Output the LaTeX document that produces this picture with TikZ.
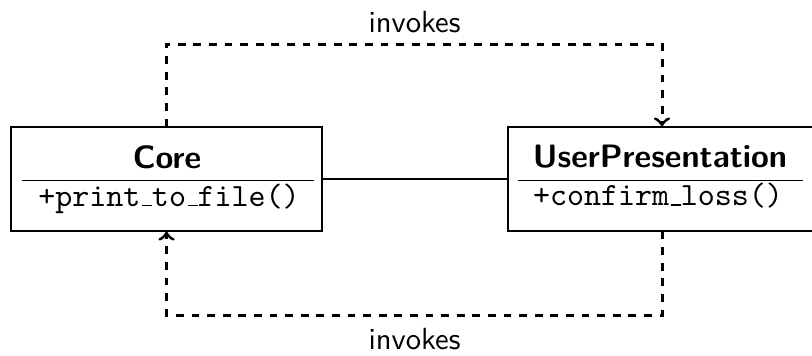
\documentclass[tikz,border=0pt]{standalone}
\usetikzlibrary{calc}
\newcommand{\lowrule}{\leavevmode\kern.06em\vbox{\hrule width .3em}}
\begin{document}
\begin{tikzpicture}[x=0.33333pt,y=-0.33333pt,
  classbox/.style={draw,line width=0.45pt,minimum height=34.667pt,inner sep=0pt},
  title/.style={font=\fontsize{10.8}{13}\selectfont\sffamily\bfseries,anchor=base,inner sep=0pt},
  op/.style={font=\fontsize{10.8}{13}\selectfont\ttfamily,anchor=base,inner sep=0pt},
  lbl/.style={font=\fontsize{10.2}{12}\selectfont\sffamily,anchor=base,inner sep=0pt},
  sepline/.style={line width=0.45pt},
  assoc/.style={line width=0.45pt},
  dep/.style={line width=1pt,dash pattern=on 2.6pt off 2.6pt,->}
]
\useasboundingbox (0,0) rectangle (812,355);
% class boxes
\node[classbox,minimum width=103.67pt] (core) at (166.5,179) {};
\node[classbox,minimum width=102.67pt] (up) at (662,179) {};
% texts
\node[title] (coretitle) at (167,168) {Core};
\node[op] (coreop) at (169,206) {+print\lowrule to\lowrule file()};
\node[title] (uptitle) at (660,167) {UserPresentation};
\node[op] (upop) at (658,205.5) {+confirm\lowrule loss()};
% separators
\coordinate (cs) at (22,180.5);
\coordinate (ce) at (314,180.5);
\coordinate (us) at (518,180.5);
\coordinate (ue) at (803,180.5);
\draw[sepline] (cs) -- (ce);
\draw[sepline] (us) -- (ue);
% association
\draw[assoc] (core.east) -- (up.west);
% dependency paths
\coordinate (t1) at (414,44);
\coordinate (b1) at (414,315);
\draw[dep] (core.north) -- (core.north |- t1) -- (up.north |- t1) -- (up.north);
\draw[dep] (up.south) -- (up.south |- b1) -- (core.south |- b1) -- (core.south);
% labels
\node[lbl] (ltop) at (414.5,32) {invokes};
\node[lbl] (lbot) at (414.5,349) {invokes};
\end{tikzpicture}
\end{document}
